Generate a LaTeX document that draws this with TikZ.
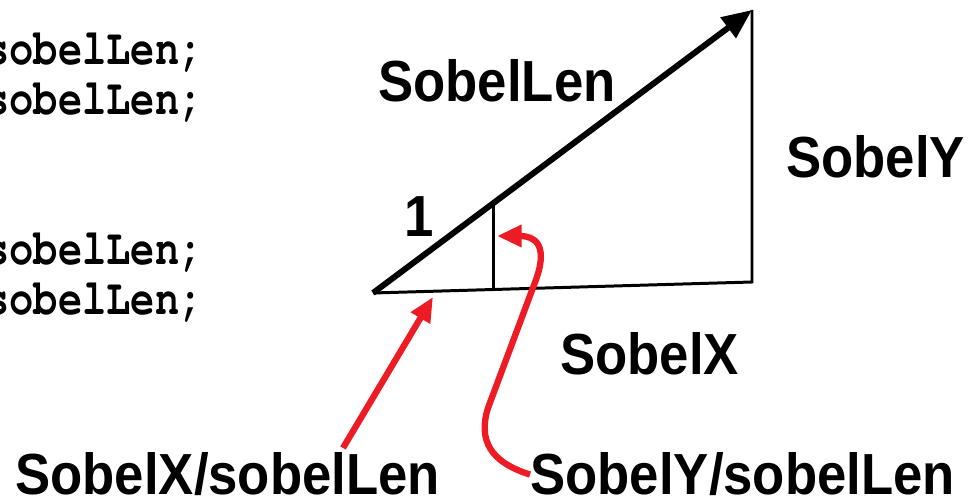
\documentclass[tikz,border=0pt]{standalone}
\usepackage[T1,TU]{fontenc}
\usepackage{fontspec}
\setmainfont{Liberation Sans}
\newcommand{\codefont}[0]{\fontencoding{T1}\fontfamily{pcr}\fontseries{b}\selectfont}
\usetikzlibrary{arrows.meta,calc}
\definecolor{rouge}{RGB}{237,28,36}
\newcommand{\etiq}[3]{\node[lab] (#1) at (#2) {\scalebox{1}[1.1]{#3}}}
\newcommand{\ligne}[2]{\node[codetxt] (#1) at (204,#2) {\scalebox{1}[1.25]{sobelLen;}}}
\tikzset{
	epais/.style={line width=3.4pt},
	fin/.style={line width=1.7pt},
	lab/.style={anchor=base west,inner sep=0pt,font=\bfseries\fontsize{30}{36}\selectfont},
	codetxt/.style={anchor=base east,inner sep=0pt,font=\fontsize{23}{28}\codefont},
	fleche/.style={rouge,line width=3.6pt,-{Triangle[length=14pt,width=12pt]}}
}

\begin{document}
\begin{tikzpicture}[x=0.02cm,y=-0.02cm]
	\useasboundingbox (0,0) rectangle (971,499);
%The code
	\ligne{c1}{65};
	\ligne{c2}{115};
	\ligne{c3}{265};
	\ligne{c4}{315};
%The triangle
	\coordinate (A) at (373,293);
	\coordinate (B) at (752,10);
	\coordinate (C) at (752,282);
	\coordinate (D) at ($(A)!0.319!(B)$);
	\coordinate (E) at ($(A)!0.319!(C)$);
	\draw[fin] (A) -- (C) -- (B);
	\draw[fin] (D) -- (E);
	\draw[epais,-{Triangle[length=17pt,width=14pt]}] (A) -- (B);
%The labels
	\etiq{len}{378,102}{SobelLen};
	\etiq{one}{404,237}{1};
	\etiq{sy}{786,178}{SobelY};
	\etiq{sx}{560,375}{SobelX};
	\etiq{xlab}{15,495}{SobelX/sobelLen};
	\etiq{ylab}{530,495}{SobelY/sobelLen};
%The red arrows
	\coordinate (xtail) at ($(xlab.base west)+(328,-47)$);
	\coordinate (xhead) at (433,297);
	\draw[fleche] (xtail) -- (xhead);
	\coordinate (yhead) at (497,236);
	\draw[fleche] (ylab.west) .. controls (490,462) and (478,440) .. (488,408)
		-- (534,285) .. controls (550,245) and (535,236) .. (yhead);
\end{tikzpicture}
\end{document}
